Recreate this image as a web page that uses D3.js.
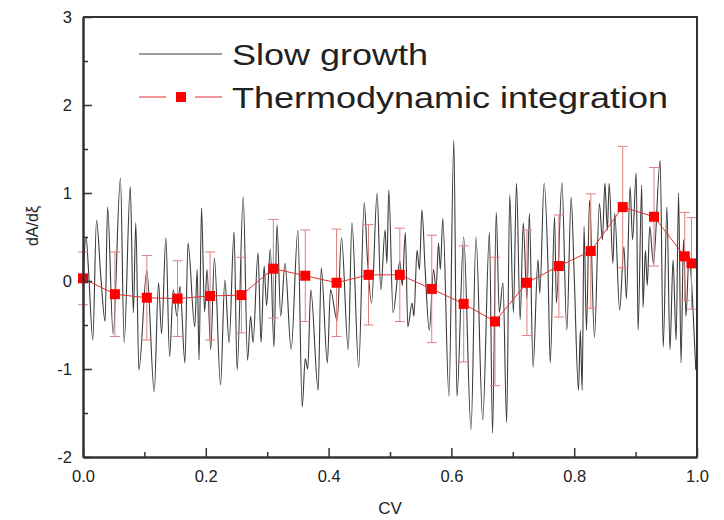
<!DOCTYPE html>
<html>
<head>
<meta charset="utf-8">
<script src="https://cdn.jsdelivr.net/npm/d3@7"></script>
<style>
  body { margin: 0; background: #fff; }
  text { font-family: "Liberation Sans", Arial, sans-serif; fill: #222; }
</style>
</head>
<body>
<div id="chart"></div>
<script>
// Slow growth trace: [CV, dA/dxi] (turning points)
const slowGrowth = [
  [0.000, 0.05], [0.005, 0.50], [0.009, 0.12], [0.016, -0.67], [0.022, 0.69], [0.029, 0.05],
  [0.036, -0.46], [0.040, 0.84], [0.049, -0.60], [0.061, 1.17], [0.067, -0.70], [0.077, 1.07],
  [0.082, -0.36], [0.086, 0.66], [0.091, -1.01], [0.104, 0.12], [0.116, -1.26], [0.123, -0.02],
  [0.128, -0.60], [0.135, 0.49], [0.141, -0.86], [0.147, -0.10], [0.153, -0.40], [0.158, -0.06],
  [0.166, -0.93], [0.171, 0.43], [0.182, -0.52], [0.186, 0.13], [0.189, -0.90], [0.193, 0.83],
  [0.198, -0.35], [0.202, 0.13], [0.208, -0.78], [0.214, 0.26], [0.224, -1.18], [0.231, 0.01],
  [0.238, -0.70], [0.246, 0.56], [0.251, -1.01], [0.261, 0.96], [0.268, -0.90], [0.273, -0.40],
  [0.277, -0.70], [0.285, 0.32], [0.290, -0.70], [0.295, 0.17], [0.299, -0.28], [0.305, 0.36],
  [0.311, -0.75], [0.316, 0.64], [0.322, -0.40], [0.329, 0.20], [0.339, -0.78], [0.350, 0.58],
  [0.357, -1.43], [0.362, -0.88], [0.366, -1.00], [0.371, -0.10], [0.383, -1.24], [0.388, 0.15],
  [0.398, -0.93], [0.403, -0.10], [0.414, -0.45], [0.421, 0.49], [0.432, -0.78], [0.438, 0.66],
  [0.449, -0.98], [0.458, 0.89], [0.463, 0.28], [0.470, -0.25], [0.479, 1.00], [0.485, -0.10],
  [0.492, 0.58], [0.495, 0.20], [0.498, 1.03], [0.505, -0.36], [0.516, 0.22], [0.520, -0.05],
  [0.525, 0.55], [0.529, -0.52], [0.536, -0.25], [0.539, -0.40], [0.544, 0.35], [0.548, 0.13],
  [0.552, 0.81], [0.557, 0.16], [0.564, -0.56], [0.571, 0.13], [0.575, -0.10], [0.579, 0.43],
  [0.582, 0.13], [0.586, 0.71], [0.596, -1.31], [0.604, 1.60], [0.609, -1.31], [0.620, 0.50],
  [0.632, -1.69], [0.640, 0.50], [0.651, -1.58], [0.662, 0.55], [0.667, -1.73], [0.673, 0.78],
  [0.678, -0.36], [0.684, -0.02], [0.690, -1.61], [0.695, 0.98], [0.701, -0.36], [0.706, 1.11],
  [0.712, -0.44], [0.717, 0.66], [0.723, -0.20], [0.727, 0.77], [0.733, -0.98], [0.741, 0.24],
  [0.744, -0.14], [0.751, 1.11], [0.757, 0.24], [0.761, -0.93], [0.768, 0.73], [0.771, -0.25],
  [0.780, 1.12], [0.788, -0.56], [0.795, 0.95], [0.800, 0.06], [0.807, -1.24], [0.810, -0.56],
  [0.813, -1.24], [0.816, 0.62], [0.820, -0.56], [0.825, 0.92], [0.833, -0.64], [0.841, 0.88],
  [0.846, 0.47], [0.850, 1.11], [0.854, 0.58], [0.857, 1.11], [0.863, 0.20], [0.866, 0.77],
  [0.874, -0.33], [0.881, 0.39], [0.885, -0.20], [0.891, 1.07], [0.895, 0.47], [0.901, 1.23],
  [0.904, -0.56], [0.910, 1.09], [0.912, -0.30], [0.916, 0.35], [0.919, -0.05], [0.923, 0.62],
  [0.929, 0.20], [0.940, 1.37], [0.945, -0.75], [0.951, 0.84], [0.956, -0.78], [0.961, 0.24],
  [0.966, -0.67], [0.970, 1.00], [0.974, -0.93], [0.978, 0.47], [0.982, -0.40], [0.987, 0.28],
  [0.993, -0.25], [0.998, -1.01]
];

// Thermodynamic integration points
const tiCV  = [0.000, 0.052, 0.104, 0.154, 0.207, 0.258, 0.310, 0.362, 0.413, 0.465, 0.516,
               0.568, 0.620, 0.671, 0.723, 0.775, 0.827, 0.879, 0.930, 0.980, 0.991];
const tiDA  = [0.03, -0.15, -0.19, -0.20, -0.17, -0.16, 0.14, 0.06, -0.02, 0.07, 0.07,
               -0.09, -0.26, -0.46, -0.02, 0.17, 0.34, 0.84, 0.73, 0.28, 0.20];
const tiErr = [0.30, 0.48, 0.48, 0.43, 0.50, 0.43, 0.56, 0.52, 0.61, 0.57, 0.53,
               0.61, 0.66, 0.73, 0.60, 0.58, 0.65, 0.69, 0.56, 0.50, 0.52];

const xTicks = [0, 0.2, 0.4, 0.6, 0.8, 1.0];
const xMinor = [0.1, 0.3, 0.5, 0.7, 0.9];
const yTicks = [-2, -1, 0, 1, 2, 3];
const yMinor = [-1.5, -0.5, 0.5, 1.5, 2.5];
const legendLabels = ["Slow growth", "Thermodynamic integration"];

const W = 724, H = 520;
const margin = {top: 17, right: 27, bottom: 63, left: 83};

const svg = d3.select("#chart").append("svg")
  .attr("width", W).attr("height", H);

const x = d3.scaleLinear().domain([0, 1]).range([margin.left, W - margin.right]);
const y = d3.scaleLinear().domain([-2, 3]).range([H - margin.bottom, margin.top]);

// slow growth trace
svg.append("path")
  .datum(slowGrowth)
  .attr("fill", "none")
  .attr("stroke", "#3a3a3a")
  .attr("stroke-width", 1.1)
  .attr("d", d3.line().curve(d3.curveMonotoneX).x(d => x(d[0])).y(d => y(d[1])));

// TI data
const ti = tiCV.map((c, i) => ({cv: c, v: tiDA[i], e: tiErr[i]}));
const errColor = "#de8080";

const eb = svg.append("g").attr("stroke", errColor).attr("stroke-width", 1);
ti.forEach(d => {
  eb.append("line").attr("x1", x(d.cv)).attr("x2", x(d.cv))
    .attr("y1", y(d.v + d.e)).attr("y2", y(d.v - d.e));
  [d.v + d.e, d.v - d.e].forEach(v => {
    eb.append("line").attr("x1", x(d.cv) - 5).attr("x2", x(d.cv) + 5)
      .attr("y1", y(v)).attr("y2", y(v));
  });
});

svg.append("path")
  .datum(ti)
  .attr("fill", "none")
  .attr("stroke", "#e03030")
  .attr("stroke-width", 1)
  .attr("d", d3.line().x(d => x(d.cv)).y(d => y(d.v)));

svg.selectAll(".sq").data(ti).enter().append("rect")
  .attr("class", "sq")
  .attr("x", d => x(d.cv) - 5).attr("y", d => y(d.v) - 5)
  .attr("width", 10).attr("height", 10)
  .attr("fill", "#ff0000");

// axes
const bottom = H - margin.bottom;
svg.append("g").attr("transform", `translate(0,${bottom})`)
  .call(d3.axisBottom(x).tickValues(xTicks).tickFormat(d3.format(".1f"))
    .tickSize(-9).tickSizeOuter(0).tickPadding(13));
svg.append("g").attr("transform", `translate(0,${bottom})`)
  .call(d3.axisBottom(x).tickValues(xMinor).tickFormat("").tickSize(-5).tickSizeOuter(0));

svg.append("g").attr("transform", `translate(${margin.left},0)`)
  .call(d3.axisLeft(y).tickValues(yTicks).tickFormat(d => String(d))
    .tickSize(-9).tickSizeOuter(0).tickPadding(11));
svg.append("g").attr("transform", `translate(${margin.left},0)`)
  .call(d3.axisLeft(y).tickValues(yMinor).tickFormat("").tickSize(-5).tickSizeOuter(0));

svg.selectAll(".domain").attr("stroke", "#333").attr("stroke-width", 2);
svg.selectAll(".tick line").attr("stroke", "#333").attr("stroke-width", 1.5);
svg.selectAll(".tick text").attr("font-size", 16.5).attr("fill", "#333")
  .attr("font-family", "'Liberation Sans', Arial, sans-serif");

// frame top/right
svg.append("path")
  .attr("d", `M${x(0)},${y(3)}H${x(1)}V${y(-2)}`)
  .attr("fill", "none").attr("stroke", "#333").attr("stroke-width", 2);

// axis titles
svg.append("text")
  .attr("x", (x(0) + x(1)) / 2).attr("y", 514)
  .attr("text-anchor", "middle").attr("font-size", 17).text("CV");
svg.append("text")
  .attr("transform", `translate(38,226) rotate(-90)`)
  .attr("text-anchor", "middle").attr("font-size", 16).text("dA/dξ");

// legend
const lg = svg.append("g");
lg.append("line").attr("x1", 139).attr("x2", 222).attr("y1", 54).attr("y2", 54)
  .attr("stroke", "#3a3a3a").attr("stroke-width", 1);
lg.append("line").attr("x1", 139).attr("x2", 166).attr("y1", 97).attr("y2", 97)
  .attr("stroke", "#e03030").attr("stroke-width", 1);
lg.append("line").attr("x1", 195).attr("x2", 222).attr("y1", 97).attr("y2", 97)
  .attr("stroke", "#e03030").attr("stroke-width", 1);
lg.append("rect").attr("x", 176).attr("y", 92).attr("width", 10).attr("height", 10)
  .attr("fill", "#ff0000");
legendLabels.forEach((t, i) => {
  lg.append("text")
    .attr("transform", `translate(232,${65 + i * 43}) scale(1.2,1)`)
    .attr("font-size", 30).attr("fill", "#111").text(t);
});
</script>
</body>
</html>
